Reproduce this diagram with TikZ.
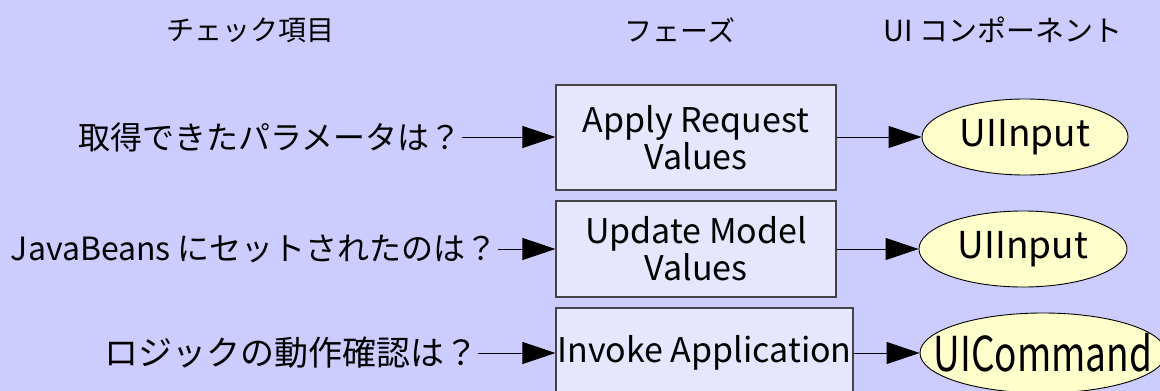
\documentclass[tikz,border=0pt]{standalone}
\usepackage{fontspec}
\setmainfont{Noto Sans CJK JP}
\usetikzlibrary{arrows.meta,shapes.geometric}
\definecolor{bg}{HTML}{CCCCFF}
\definecolor{boxfill}{HTML}{E6E6FF}
\definecolor{ellfill}{HTML}{FFFFCC}
\definecolor{boxline}{HTML}{444444}
\begin{document}
\begin{tikzpicture}[x=1pt,y=-1pt,
  phase/.style={draw=boxline, fill=boxfill, line width=1.2pt, rectangle, inner sep=0pt, align=center, font=\fontsize{34}{37}\selectfont},
  comp/.style={draw=black, fill=ellfill, ellipse, line width=0.9pt, inner xsep=-30pt, inner ysep=-14pt, font=\fontsize{37}{40}\selectfont},
  check/.style={anchor=east, inner sep=0pt, outer sep=0pt, font=\fontsize{32}{36}\selectfont},
  head/.style={inner sep=0pt, font=\fontsize{28}{32}\selectfont},
  flow/.style={draw=black, line width=0.9pt, -{Triangle[length=33pt,width=22pt]}}
]
\fill[bg] (0,0) rectangle (1160,391);
\useasboundingbox (0,0) rectangle (1160,391);

\node[head] (h1) at (250,30) {チェック項目};
\node[head] (h2) at (680,30) {フェーズ};
\node[head, font=\fontsize{29}{32}\selectfont] (h3) at (1003,30) {UI コンポーネント};

\node[phase, minimum width=280pt, minimum height=105pt] (p1) at (696,137.5) {Apply Request\\Values};
\node[phase, minimum width=280pt, minimum height=96pt] (p2) at (696,249) {Update Model\\Values};
\node[phase, minimum width=297pt, minimum height=90pt] (p3) at (704.5,353) {Invoke Application};

\node[comp, minimum width=206pt, minimum height=76pt] (c1) at (1025,137) {UIInput};
\node[comp, minimum width=208pt, minimum height=76pt] (c2) at (1023,249) {UIInput};
\node[comp, minimum width=246pt, minimum height=80pt] (c3) at (1043,353) {\scalebox{1}[1.3]{UICommand}};

\node[check] (l1) at (462,137) {取得できたパラメータは？};
\node[check] (l2) at (498,249) {JavaBeans にセットされたのは？};
\node[check, font=\fontsize{34}{38}\selectfont] (l3) at (478,353) {ロジックの動作確認は？};

\draw[flow] (l1.east) -- (l1.east -| p1.west);
\draw[flow] (l2.east) -- (l2.east -| p2.west);
\draw[flow] (l3.east) -- (l3.east -| p3.west);

\draw[flow] (c1.west -| p1.east) -- (c1.west);
\draw[flow] (c2.west -| p2.east) -- (c2.west);
\draw[flow] (c3.west -| p3.east) -- (c3.west);
\end{tikzpicture}
\end{document}
